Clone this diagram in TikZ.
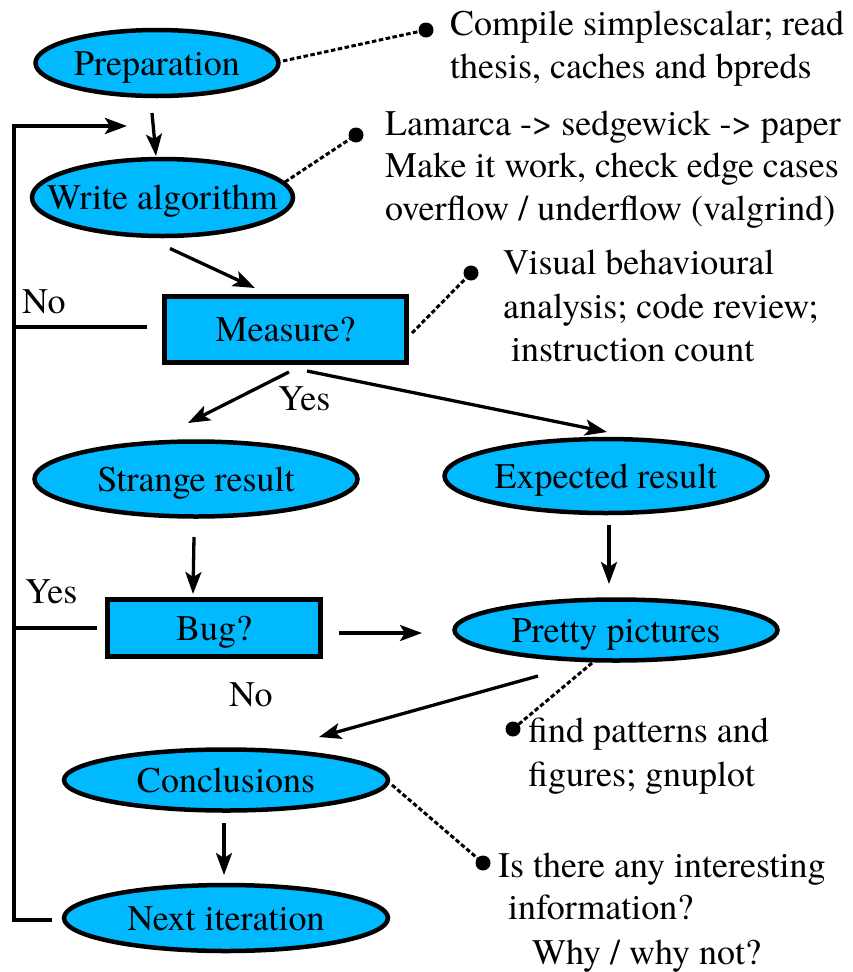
\documentclass[tikz,border=0pt]{standalone}
\usepackage{fontspec}
\setmainfont{TeX Gyre Termes}
\usetikzlibrary{shapes.geometric,arrows.meta,calc}
\definecolor{boxfill}{RGB}{0,185,255}
\begin{document}
\begin{tikzpicture}[x=1pt,y=-1pt,
  every node/.style={font=\fontsize{36}{43}\selectfont},
  ell/.style={ellipse, draw, line width=4.5pt, fill=boxfill, inner sep=0pt, outer sep=0pt, text height=25pt, text depth=1pt},
  rbox/.style={rectangle, draw, line width=5pt, fill=boxfill, inner sep=0pt, outer sep=0pt, text height=25pt, text depth=1pt},
  arr/.style={line width=3.3pt, -{Stealth[length=22pt,width=16pt,inset=5pt]}},
  loopline/.style={line width=4pt},
  dotline/.style={line width=3pt, dash pattern=on 4.5pt off 2.5pt},
  dotn/.style={circle, fill=black, inner sep=0pt, outer sep=0pt, minimum size=15pt},
  txt/.style={anchor=base west, inner sep=0pt},
]
\useasboundingbox (0,0) rectangle (852,972);

% main nodes
\node[ell, minimum width=243pt, minimum height=66pt] (prep) at (157,63) {\makebox[0pt]{Preparation}};
\node[ell, minimum width=261pt, minimum height=77pt] (write) at (162.5,197.5) {\makebox[0pt]{Write algorithm}};
\node[rbox, minimum width=242pt, minimum height=66pt] (measure) at (285.5,329.5) {\makebox[0pt]{Measure?}};
\node[ell, minimum width=323pt, minimum height=75pt] (strange) at (196,479) {\makebox[0pt]{Strange result}};
\node[ell, minimum width=323pt, minimum height=74pt] (expected) at (606,476) {\makebox[0pt]{Expected result}};
\node[rbox, minimum width=213pt, minimum height=57pt] (bug) at (214,628) {\makebox[0pt]{Bug?}};
\node[ell, minimum width=323pt, minimum height=61pt] (pretty) at (616,630) {\makebox[0pt]{Pretty pictures}};
\node[ell, minimum width=324pt, minimum height=61pt] (concl) at (226,780) {\makebox[0pt]{Conclusions}};
\node[ell, minimum width=324pt, minimum height=66pt] (next) at (226,918) {\makebox[0pt]{Next iteration}};

% arrows
\draw[arr] ($(prep.south)+(-5,17)$) -- ($(write.north)+(-6.5,-3)$);
\draw[arr] ($(write.south)+(7.5,12.5)$) -- ($(measure.north)+(-30.5,-8.5)$);
\draw[arr] ($(measure.south)+(3.5,9.5)$) -- ($(strange.north)+(-8,-18.5)$);
\draw[arr] ($(measure.south)+(21.5,8.5)$) -- ($(expected.north)+(1,-7)$);
\draw[arr] ($(strange.south)+(-2,20.5)$) -- ($(bug.north)+(-21,-5.5)$);
\draw[arr] ($(expected.south)+(3,12)$) -- ($(pretty.north)+(-7,-15.5)$);
\draw[arr] ($(bug.east)+(18.5,5)$) -- ($(pretty.west)+(-32.5,3)$);
\draw[arr] ($(pretty.south)+(-78,15.5)$) -- ($(concl.north)+(93,-12.5)$);
\draw[arr] ($(concl.south)+(-2,12.5)$) -- ($(next.north)+(-2,-10)$);

% feedback loop
\coordinate (loopx) at (14,126);
\coordinate (looptip) at (127,126);
\draw[arr, line width=4pt] ([xshift=-12pt,yshift=-2pt]next.west) -| (loopx) -- (looptip);
\draw[loopline] ($(measure.west)+(-17.5,-2.5)$) coordinate (nostart) -- (nostart -| loopx);
\draw[loopline] ($(bug.west)+(-10.5,0)$) coordinate (yesstart) -- (yesstart -| loopx);

% labels
\node[txt] (lno1) at (22,313) {No};
\node[txt] (lyes1) at (278,410) {Yes};
\node[txt] (lyes2) at (25,603) {Yes};
\node[txt] (lno2) at (229,706) {No};

% annotation dots and dotted connectors
\node[dotn] (d1) at (426,30) {};
\node[dotn] (d2) at (356,135) {};
\node[dotn] (d3) at (471,273) {};
\node[dotn] (d4) at (513,729) {};
\node[dotn] (d5) at (483,863) {};
\draw[dotline] ($(prep.east)+(4.5,-2)$) -- (d1);
\draw[dotline] ($(write.east)+(-8,-15.5)$) -- (d2);
\draw[dotline] ($(measure.east)+(5.5,3.5)$) -- (d3);
\draw[dotline] ($(pretty.south)+(-24,2.5)$) -- (d4);
\draw[dotline] ($(concl.east)+(4,5)$) -- (d5);

% annotation texts
\node[txt] (t1a) at (450,35) {Compile simplescalar; read};
\node[txt] (t1b) at (450,78) {thesis, caches and bpreds};
\node[txt] (t2a) at (385,135) {Lamarca -> sedgewick -> paper};
\node[txt] (t2b) at (385,177) {Make it work, check edge cases};
\node[txt] (t2c) at (385,220) {overflow / underflow (valgrind)};
\node[txt] (t3a) at (503,274) {Visual behavioural};
\node[txt] (t3b) at (503,318) {analysis; code review;};
\node[txt] (t3c) at (511,361) {instruction count};
\node[txt] (t4a) at (528,742) {find patterns and};
\node[txt] (t4b) at (528,786) {figures; gnuplot};
\node[txt] (t5a) at (498,877) {Is there any interesting};
\node[txt] (t5b) at (508,919) {information?};
\node[txt] (t5c) at (532,964) {Why / why not?};
\end{tikzpicture}
\end{document}
